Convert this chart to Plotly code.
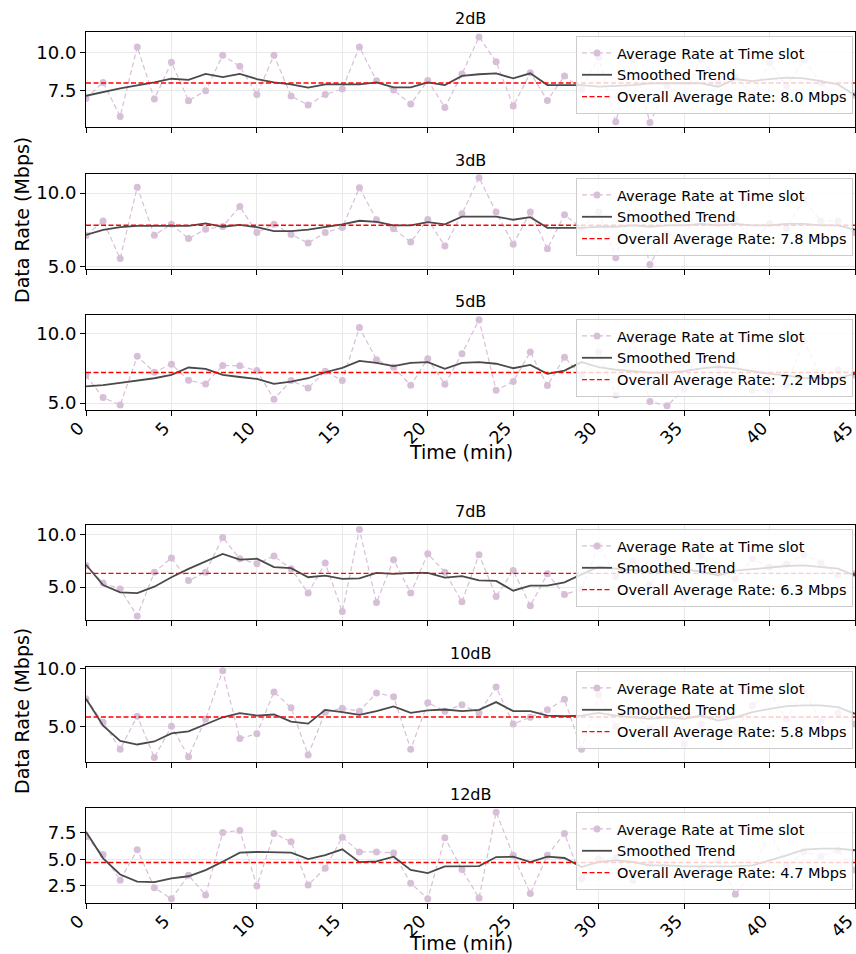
import plotly.graph_objects as go

# ---------------- data ----------------
time_min = list(range(46))
snr_labels = ["2dB", "3dB", "5dB", "7dB", "10dB", "12dB"]

rate_2db = [7.0, 8.04, 5.83, 10.35, 6.96, 9.35, 6.85, 7.5, 9.8, 9.09,
            7.26, 9.8, 7.15, 6.57, 7.26, 7.61, 10.35, 8.15, 7.54, 6.63,
            8.17, 6.41, 8.59, 11.0, 9.39, 6.5, 8.67, 6.87, 8.46, 7.6,
            9.67, 5.48, 9.6, 5.43, 7.8, 7.2, 9.6, 8.0, 8.4, 7.2,
            9.33, 7.8, 9.5, 8.0, 7.0, 7.2]
rate_3db = [7.1, 8.09, 5.53, 10.41, 7.12, 7.88, 6.89, 7.53, 7.72, 9.08,
            7.3, 7.88, 7.17, 6.59, 7.3, 7.65, 10.37, 8.18, 7.56, 6.66,
            8.2, 6.38, 8.59, 11.06, 8.71, 6.5, 8.71, 6.2, 8.53, 7.6,
            8.71, 5.58, 9.63, 5.12, 7.2, 7.0, 9.56, 7.9, 8.2, 6.8,
            7.9, 7.6, 9.56, 8.1, 8.1, 7.3]
rate_5db = [6.98, 5.41, 4.86, 8.36, 7.22, 7.8, 6.64, 6.38, 7.71, 7.68,
            7.34, 5.29, 6.62, 6.09, 7.29, 6.62, 10.43, 8.12, 7.58, 6.28,
            8.19, 6.35, 8.55, 10.99, 5.92, 6.55, 8.67, 6.26, 8.3, 7.0,
            8.67, 5.58, 9.5, 5.12, 4.81, 6.0, 9.64, 7.6, 7.95, 5.92,
            5.89, 6.26, 9.52, 6.9, 7.4, 7.0]
rate_7db = [7.05, 5.38, 4.81, 2.24, 6.41, 7.76, 5.61, 6.41, 9.71, 7.69,
            7.21, 7.95, 6.73, 4.42, 7.28, 2.66, 10.48, 3.53, 7.6, 4.42,
            8.17, 6.41, 3.59, 8.08, 4.1, 6.57, 3.21, 6.25, 4.29, 4.8,
            8.97, 6.0, 7.5, 5.2, 7.69, 4.0, 8.0, 6.3, 5.77, 7.69,
            6.9, 7.2, 8.08, 7.3, 6.15, 6.25]
rate_10db = [7.38, 5.35, 3.02, 5.87, 2.3, 5.0, 2.38, 5.64, 9.8, 3.95,
             4.36, 7.97, 6.6, 2.53, 6.22, 6.57, 6.31, 7.88, 7.56, 3.02,
             7.03, 6.31, 6.86, 6.16, 8.4, 5.2, 5.78, 6.42, 7.33, 3.02,
             7.73, 5.0, 6.2, 4.8, 6.5, 3.46, 5.2, 6.0, 4.5, 6.8,
             7.97, 5.6, 8.1, 5.4, 6.16, 5.2]
rate_12db = [7.13, 5.45, 3.03, 5.92, 2.32, 1.27, 3.5, 1.62, 7.55, 7.74,
             2.48, 7.45, 6.66, 2.58, 4.17, 7.1, 5.7, 5.7, 5.61, 2.74,
             1.27, 7.04, 4.04, 1.34, 9.46, 5.38, 1.78, 5.38, 7.45, 3.15,
             5.06, 5.16, 2.99, 4.6, 5.38, 3.47, 4.2, 5.0, 1.69, 3.8,
             7.61, 4.4, 5.7, 5.3, 5.86, 4.0]

smooth_2db = [7.17, 7.43, 7.65, 7.85, 8.04, 8.28, 8.2, 8.59, 8.39, 8.59,
              8.26, 8.04, 7.91, 7.7, 7.91, 7.91, 7.91, 8.04, 7.72, 7.72,
              8.04, 7.87, 8.46, 8.57, 8.63, 8.3, 8.63, 7.87, 7.87, 7.87,
              7.76, 7.8, 7.87, 7.98, 8.0, 8.0, 7.98, 7.76, 8.26, 8.13,
              8.26, 8.35, 8.3, 8.13, 7.91, 7.2]
smooth_3db = [7.14, 7.49, 7.67, 7.76, 7.76, 7.76, 7.76, 7.93, 7.7, 7.83,
              7.67, 7.4, 7.4, 7.51, 7.67, 7.86, 8.11, 8.04, 7.79, 7.79,
              8.02, 7.86, 8.39, 8.39, 8.39, 8.18, 8.36, 7.63, 7.63, 7.63,
              7.7, 7.7, 7.8, 7.7, 7.8, 7.8, 7.9, 7.8, 7.9, 7.8,
              7.8, 7.9, 7.9, 7.8, 7.8, 7.5]
smooth_5db = [6.21, 6.3, 6.45, 6.62, 6.79, 7.03, 7.56, 7.46, 7.03, 6.88,
              6.74, 6.38, 6.55, 6.79, 7.22, 7.54, 8.04, 7.9, 7.66, 7.9,
              7.95, 7.46, 7.9, 7.95, 7.83, 7.51, 7.75, 7.1, 7.34, 7.95,
              7.58, 7.4, 7.3, 7.2, 7.2, 7.3, 7.5, 7.6, 7.5, 7.3,
              7.1, 7.0, 6.8, 6.8, 6.8, 7.1]
smooth_7db = [7.12, 5.19, 4.49, 4.42, 5.03, 5.93, 6.73, 7.44, 8.14, 7.6,
              7.69, 6.89, 6.79, 5.93, 6.09, 5.77, 5.83, 6.35, 6.25, 6.35,
              6.35, 5.9, 6.03, 5.64, 5.58, 4.65, 5.13, 5.13, 5.45, 6.2,
              6.9, 6.75, 6.6, 6.45, 6.45, 6.7, 6.45, 6.1, 6.55, 6.7,
              6.9, 7.0, 7.05, 6.9, 6.75, 6.1]
smooth_10db = [7.38, 5.06, 3.75, 3.43, 3.69, 4.39, 4.56, 5.17, 5.78, 6.13,
               5.93, 6.02, 5.41, 5.23, 6.42, 6.22, 5.99, 6.31, 6.72, 6.16,
               6.37, 6.45, 6.31, 6.42, 7.09, 6.31, 6.31, 5.93, 5.87, 5.93,
               6.16, 5.93, 5.78, 5.64, 5.78, 5.64, 5.93, 5.49, 5.78, 6.22,
               6.51, 6.74, 6.8, 6.8, 6.66, 6.08]
smooth_12db = [7.61, 5.1, 3.57, 2.9, 2.84, 3.2, 3.4, 3.98, 4.78, 5.64,
               5.7, 5.67, 5.64, 5.03, 5.41, 5.95, 4.74, 4.8, 5.25, 4.0,
               3.7, 4.33, 4.33, 4.36, 5.22, 5.25, 4.75, 5.25, 5.13, 4.27,
               4.75, 4.9, 4.75, 4.43, 4.43, 4.33, 4.33, 4.33, 4.33, 4.43,
               4.9, 5.38, 5.92, 6.02, 6.02, 5.86]

overall_avg = [8.0, 7.8, 7.2, 6.3, 5.8, 4.7]

x_ticks = [0, 5, 10, 15, 20, 25, 30, 35, 40, 45]
y_ticks = [[7.5, 10.0], [5.0, 10.0], [5.0, 10.0], [5.0, 10.0], [5.0, 10.0], [2.5, 5.0, 7.5]]
y_ranges = [[5.14, 11.32], [4.81, 11.31], [4.51, 11.33], [1.86, 10.9], [1.92, 10.12], [0.87, 9.86]]

rates = [rate_2db, rate_3db, rate_5db, rate_7db, rate_10db, rate_12db]
smooths = [smooth_2db, smooth_3db, smooth_5db, smooth_7db, smooth_10db, smooth_12db]

# ---------------- layout constants ----------------
W, H = 856, 954
X_LEFT, X_RIGHT = 86, 855
PANEL_TOPS = [32, 174, 315, 525, 667, 808]
PANEL_H = 95
FONT = "DejaVu Sans"
PINK = "#d8bfd8"
TREND = "#4a4a4a"

fig = go.Figure()
layout = dict(
    template="none",
    width=W, height=H, autosize=False,
    margin=dict(l=0, r=0, t=0, b=0, pad=0),
    paper_bgcolor="white", plot_bgcolor="white",
    font=dict(family=FONT, color="black"),
    showlegend=True,
)
annotations = []

for i in range(6):
    sfx = "" if i == 0 else str(i + 1)
    leg = "legend" if i == 0 else f"legend{i + 1}"
    top = PANEL_TOPS[i]
    bot = top + PANEL_H

    fig.add_trace(go.Scatter(
        x=time_min, y=rates[i], mode="lines+markers",
        name="Average Rate at Time slot",
        line=dict(color=PINK, width=1.2, dash="5px,3px"),
        marker=dict(color=PINK, size=7),
        xaxis="x" + sfx, yaxis="y" + sfx, legend=leg,
    ))
    fig.add_trace(go.Scatter(
        x=time_min, y=smooths[i], mode="lines",
        name="Smoothed Trend",
        line=dict(color=TREND, width=1.8),
        xaxis="x" + sfx, yaxis="y" + sfx, legend=leg,
    ))
    fig.add_trace(go.Scatter(
        x=[time_min[0], time_min[-1]], y=[overall_avg[i], overall_avg[i]], mode="lines",
        name=f"Overall Average Rate: {overall_avg[i]:.1f} Mbps",
        line=dict(color="red", width=1.4, dash="5px,2.5px"),
        xaxis="x" + sfx, yaxis="y" + sfx, legend=leg,
    ))

    layout["xaxis" + sfx] = dict(
        domain=[X_LEFT / W, X_RIGHT / W], anchor="y" + sfx, automargin=False,
        range=[0, 45], tickvals=x_ticks,
        showticklabels=(i in (2, 5)), tickangle=-45, ticklabeloverflow="allow",
        ticklabelshift=-7, ticklabelstandoff=-5,
        tickfont=dict(size=17.5, family=FONT, color="black"),
        ticks="outside", ticklen=5, tickwidth=1, tickcolor="black",
        showline=True, mirror=True, linecolor="black", linewidth=1,
        showgrid=True, gridcolor="#e9e9e9", gridwidth=1, zeroline=False,
    )
    layout["yaxis" + sfx] = dict(
        domain=[1 - bot / H, 1 - top / H], anchor="x" + sfx, automargin=False,
        range=y_ranges[i], tickvals=y_ticks[i], tickformat=".1f",
        tickfont=dict(size=18, family=FONT, color="black"),
        ticks="outside", ticklen=5, tickwidth=1, tickcolor="black",
        showline=True, mirror=True, linecolor="black", linewidth=1,
        showgrid=True, gridcolor="#e9e9e9", gridwidth=1, zeroline=False,
    )
    layout[leg] = dict(
        x=853 / W, y=1 - (top + 4) / H, xanchor="right", yanchor="top",
        bgcolor="rgba(255,255,255,0.8)", bordercolor="#cccccc", borderwidth=1,
        font=dict(size=14.5, family=FONT, color="black"),
        itemwidth=30, tracegroupgap=0,
    )
    annotations.append(dict(
        text=snr_labels[i], xref="paper", yref="paper",
        x=(X_LEFT + X_RIGHT) / 2 / W, y=1 - top / H,
        xanchor="center", yanchor="bottom", yshift=2, showarrow=False,
        font=dict(size=16, family=FONT, color="black"),
    ))

for yc in (220, 711):
    annotations.append(dict(
        text="Data Rate (Mbps)", xref="paper", yref="paper",
        x=22 / W, y=1 - yc / H, xanchor="center", yanchor="middle",
        textangle=-90, showarrow=False,
        font=dict(size=19, family=FONT, color="black"),
    ))
for yc in (452, 943):
    annotations.append(dict(
        text="Time (min)", xref="paper", yref="paper",
        x=461 / W, y=1 - yc / H, xanchor="center", yanchor="middle",
        showarrow=False,
        font=dict(size=19, family=FONT, color="black"),
    ))

layout["annotations"] = annotations
fig.update_layout(**layout)
fig.write_html("out.html")
